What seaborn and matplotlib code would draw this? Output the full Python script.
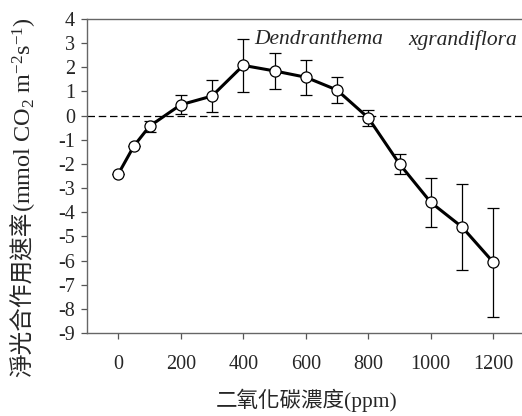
import numpy as np
import pandas as pd
import matplotlib
matplotlib.use("Agg")
import matplotlib.pyplot as plt
import seaborn as sns

# Data
co2_ppm = [0, 50, 100, 200, 300, 400, 500, 600, 700, 800, 900, 1000, 1100, 1200]
net_rate = [-2.42, -1.26, -0.44, 0.45, 0.81, 2.08, 1.85, 1.59, 1.06, -0.09, -2.0, -3.59, -4.61, -6.07]
rate_err = [0.0, 0.0, 0.23, 0.39, 0.67, 1.1, 0.73, 0.72, 0.54, 0.33, 0.4, 1.02, 1.78, 2.26]
x_ticks = [0, 200, 400, 600, 800, 1000, 1200]
y_ticks = list(range(-9, 5))

df = pd.DataFrame({"co2": co2_ppm, "rate": net_rate, "err": rate_err})

sns.set_style("ticks")
plt.rcParams["font.family"] = ["Liberation Serif", "DejaVu Serif", "Noto Sans CJK TC"]
plt.rcParams["mathtext.fontset"] = "custom"
plt.rcParams["mathtext.rm"] = "Liberation Serif"
plt.rcParams["mathtext.it"] = "Liberation Serif:italic"
plt.rcParams["axes.unicode_minus"] = False

fig = plt.figure(figsize=(5.22, 4.16), dpi=100)
ax = fig.add_axes([87 / 522, 83 / 416, 437.5 / 522, 314 / 416])

# zero reference line
ax.axhline(0, color="black", lw=0.9, ls=(0, (6, 3)), zorder=1)

# error bars
ax.errorbar(df["co2"], df["rate"], yerr=df["err"], fmt="none",
            ecolor="black", elinewidth=0.9, capsize=4, capthick=0.9, zorder=2)

sns.lineplot(data=df, x="co2", y="rate", ax=ax, color="black", lw=2.2,
             marker="o", markersize=8, markerfacecolor="white",
             markeredgecolor="black", markeredgewidth=0.9, zorder=3)

ax.set_xlim(-100, 1300)
ax.set_ylim(-9, 4)
ax.set_xticks(x_ticks)
ax.set_yticks(y_ticks)
ax.tick_params(axis="both", labelsize=14.5, direction="out", length=4.5,
               width=0.9, color="#555555")
ax.tick_params(axis="x", pad=11)
ax.tick_params(axis="y", pad=4)

for side in ["left", "bottom", "top"]:
    ax.spines[side].set_color("#666666")
    ax.spines[side].set_linewidth(1.0)
ax.spines["right"].set_visible(False)

ax.set_xlabel("")
ax.set_ylabel("")

fig.text(307 / 522, 1 - 400 / 416, "二氧化碳濃度(ppm)", ha="center", va="center",
         fontsize=15.5, family=["Liberation Serif", "Noto Sans CJK TC"])

# y label in two pieces: Chinese part and the unit part
split_y = 1 - 212 / 416
fig.text(24 / 522, split_y, "淨光合作用速率", rotation=90, ha="center", va="top",
         fontsize=17, family=["Liberation Serif", "Noto Sans CJK TC"])
fig.text(25 / 522, split_y, r"(mmol CO$_2$ m$^{-2}$s$^{-1}$)", rotation=90,
         ha="center", va="bottom", fontsize=17.5)

# species name
fig.text(254 / 522, 1 - 40 / 416, "Dendranthema", ha="left", va="center",
         fontsize=15.5, style="italic")
fig.text(517 / 522, 1 - 40 / 416, "xgrandiflora", ha="right", va="center",
         fontsize=15.5, style="italic")

fig.savefig("out.png", dpi=100)
